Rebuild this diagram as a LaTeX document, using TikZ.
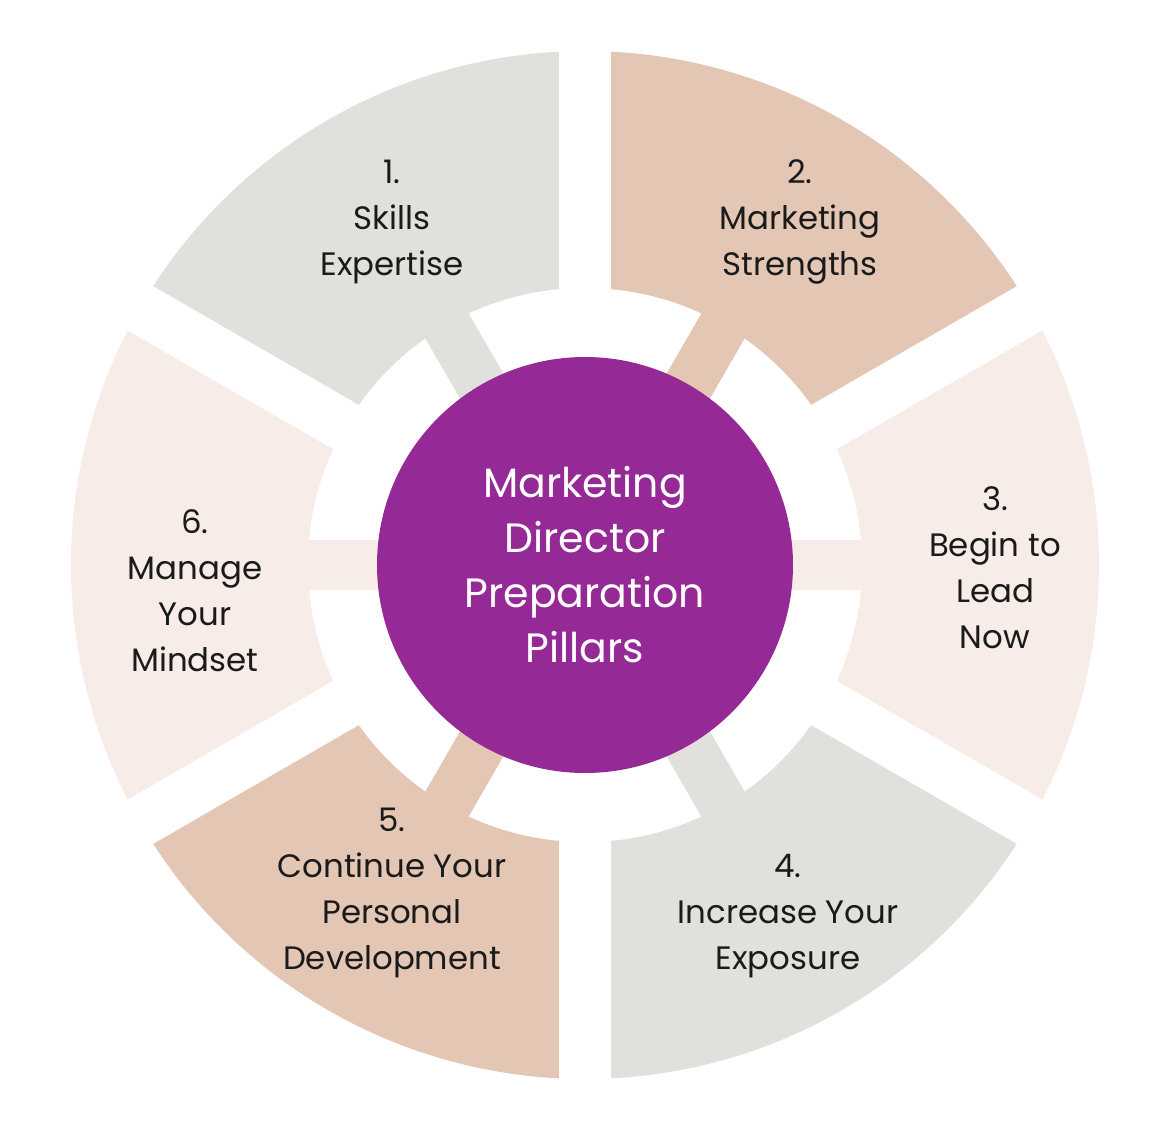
\documentclass[tikz,border=0pt]{standalone}
\usepackage{fontspec}
\setmainfont{Poppins}
\definecolor{cgray}{HTML}{E2E0DC}
\definecolor{ctan}{HTML}{E4C6B5}
\definecolor{cpink}{HTML}{F7ECE7}
\definecolor{cpurple}{HTML}{952996}
\definecolor{ctext}{HTML}{1A1A1A}
\tikzset{
  lab/.style={align=center, text=ctext, font=\fontsize{16.2pt}{23pt}\selectfont, inner sep=0pt},
  hub/.style={align=center, text=white, font=\fontsize{20.5pt}{27.5pt}\selectfont, inner sep=0pt},
}
\newcommand{\pillarsector}[3]{%
  \fill[#1] (0,0) -- (#2:514) arc[start angle=#2, end angle=#3, radius=514] -- cycle;}
\newcommand{\pillarbar}[2]{%
  \fill[#1, rotate=#2] (0,-25) rectangle (292,25);}
\begin{document}
\begin{tikzpicture}[x=0.5pt,y=0.5pt]
\useasboundingbox (-585,-555) rectangle (571,565);
% sectors
\pillarsector{cgray}{90}{150}
\pillarsector{ctan}{30}{90}
\pillarsector{cpink}{-30}{30}
\pillarsector{cgray}{-90}{-30}
\pillarsector{ctan}{-150}{-90}
\pillarsector{cpink}{150}{210}
% inner hole
\fill[white] (0,0) circle[radius=277];
% gaps
\foreach \a in {30,90,150}{\fill[white, rotate=\a] (-600,-25.5) rectangle (600,25.5);}
% bars
\pillarbar{cgray}{120}
\pillarbar{ctan}{60}
\pillarbar{cpink}{0}
\pillarbar{cgray}{-60}
\pillarbar{ctan}{-120}
\pillarbar{cpink}{180}
% hub
\fill[cpurple] (0,0) circle[radius=208];
\node[hub] (hubtext) at (0,0) {Marketing\\Director\\Preparation\\Pillars};
\node[lab] (t1) at (-193,343) {1.\\Skills\\Expertise};
\node[lab] (t2) at (215,343) {2.\\Marketing\\Strengths};
\node[lab] (t3) at (410,-3) {3.\\Begin to\\Lead\\Now};
\node[lab] (t4) at (203,-351) {4.\\Increase Your\\Exposure};
\node[lab] (t5) at (-193,-328) {5.\\Continue Your\\Personal\\Development};
\node[lab] (t6) at (-390,-26) {6.\\Manage\\Your\\Mindset};
\end{tikzpicture}
\end{document}
